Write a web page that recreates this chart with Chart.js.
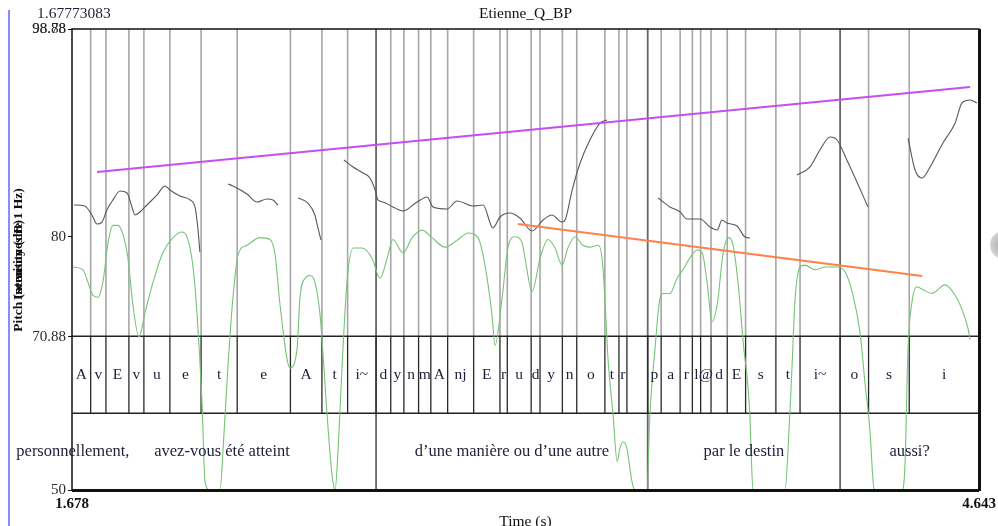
<!DOCTYPE html>
<html>
<head>
<meta charset="utf-8">
<script src="https://cdn.jsdelivr.net/npm/chart.js@4/dist/chart.umd.min.js"></script>
<style>
body { margin: 0; background: #fff; }
canvas { display: block; }
</style>
</head>
<body>
<canvas id="c" width="998" height="526"></canvas>
<script>
// time range of the window (s)
var tMin = 1.678, tMax = 4.643;

// intensity contour (dB)
var intensityTime = [1.681,1.714,1.730,1.747,1.763,1.779,1.796,1.812,1.828,1.845,
    1.861,1.877,1.897,1.917,1.943,1.975,2.008,2.038,2.057,2.074,
    2.087,2.103,2.113,2.129,2.162,2.172,2.188,2.204,2.221,2.250,
    2.293,2.325,2.342,2.358,2.391,2.414,2.423,2.440,2.456,2.472,
    2.489,2.512,2.528,2.538,2.548,2.561,2.577,2.597,2.626,2.659,
    2.685,2.708,2.727,2.760,2.790,2.822,2.855,2.897,2.940,2.973,
    3.005,3.028,3.051,3.061,3.084,3.103,3.126,3.149,3.159,3.182,
    3.208,3.234,3.257,3.280,3.299,3.322,3.348,3.371,3.398,3.411,
    3.420,3.430,3.447,3.460,3.469,3.479,3.492,3.509,3.518,3.558,
    3.567,3.584,3.600,3.610,3.633,3.656,3.675,3.705,3.721,3.738,
    3.754,3.770,3.787,3.806,3.823,3.839,3.855,3.872,3.894,3.898,
    3.904,4.009,4.019,4.032,4.042,4.058,4.074,4.107,4.140,4.179,
    4.205,4.228,4.254,4.270,4.287,4.297,4.303,4.391,4.401,4.411,
    4.424,4.440,4.460,4.489,4.532,4.565,4.591,4.607,4.614];
var intensityDb = [73.6,73.3,72.0,70.6,70.4,72.0,76.2,78.0,78.0,77.0,
    74.5,69.6,66.2,68.8,72.0,75.1,76.7,77.3,76.5,73.5,
    68.5,59.3,50.8,50,50,54.4,63.2,70.3,74.9,75.9,
    76.7,76.5,74.9,69.6,62.9,65.0,70.3,72.4,72.7,72.0,
    68.5,57.9,51.6,50,54.4,63.2,72.0,75.6,75.6,74.5,
    72.4,74.5,76.5,75.1,76.7,77.5,76.7,75.7,76.5,77.2,
    76.7,73.8,68.5,65.3,70.3,75.6,76.8,76.2,74.5,71.0,
    74.5,76.5,75.6,73.8,75.6,76.8,75.9,75.7,75.9,74.5,
    70.3,64.0,57.9,53.0,54.4,55.1,54.4,50.8,50,50,
    57.9,65.0,70.3,70.8,70.8,72.4,73.3,74.9,75.4,75.1,
    72.0,67.8,69.6,74.9,76.7,75.9,72.0,65.7,57.9,54.2,
    50,50,54.4,63.2,70.3,73.6,73.8,73.3,73.6,73.6,
    73.1,71.0,66.7,61.4,56.1,50.8,50,50,52.6,65.0,
    69.9,71.5,71.2,70.8,71.7,70.6,68.8,67.1,65.9];

// pitch contour (semitones re 1 Hz), null = unvoiced gap
var pitchTime = [1.685,1.720,1.743,1.760,1.776,1.792,1.812,1.835,1.858,1.874,1.884,1.900,1.923,1.956,1.982,1.998,2.031,2.064,2.080,2.090,2.096,
    2.14,
    2.188,2.204,2.250,2.283,2.315,2.335,2.351,
    2.38,
    2.417,2.449,2.472,2.482,2.492,
    2.53,
    2.567,2.597,2.629,2.652,2.669,2.678,2.695,2.727,2.760,2.806,2.839,2.858,2.904,2.937,2.989,3.022,3.054,3.077,3.110,3.142,3.182,3.218,3.247,3.280,3.290,3.313,3.339,3.371,3.404,3.427,
    3.5,
    3.594,3.633,3.666,3.688,3.731,3.764,3.787,3.803,3.819,3.852,3.878,3.894,
    3.95,
    4.048,4.090,4.123,4.156,4.179,4.211,4.244,4.280,
    4.35,
    4.411,4.434,4.457,4.483,4.525,4.565,4.587,4.614,4.636];
var pitchSt = [82.88,82.79,81.97,81.15,81.33,82.43,83.34,84.15,83.97,82.70,81.97,82.24,82.88,83.79,84.61,84.25,83.70,83.34,82.70,80.61,78.61,
    null,
    84.79,84.61,83.88,83.15,83.43,83.34,82.88,
    null,
    83.52,83.06,81.97,80.79,79.70,
    null,
    86.97,86.33,85.79,85.33,84.24,83.34,83.15,82.70,82.34,83.15,83.61,82.70,82.52,83.24,82.79,82.88,80.79,81.79,82.15,81.70,80.52,81.52,81.97,81.33,81.52,84.24,86.70,88.79,90.33,90.61,
    null,
    83.52,82.70,82.24,81.61,81.61,80.88,80.61,81.52,81.24,80.97,79.97,79.88,
    null,
    85.61,86.33,87.88,89.06,88.79,86.97,84.97,82.70,
    null,
    88.97,86.06,85.33,86.33,88.52,90.33,92.15,92.43,92.15];

// stylised trend lines (semitones)
var riseTime = [1.760, 4.614];
var riseSt = [85.88, 93.61];
var fallTime = [3.136, 4.457];
var fallSt = [81.15, 76.43];

// TextGrid tiers
var phoneBounds = [1.739,1.789,1.864,1.913,1.998,2.100,2.218,2.392,2.495,2.579,
    2.672,2.720,2.763,2.811,2.851,2.906,2.991,3.077,3.101,3.179,
    3.208,3.281,3.328,3.420,3.466,3.492,3.560,3.604,3.666,3.706,
    3.733,3.767,3.820,3.880,3.979,4.058,4.189,4.282,4.415];
var phoneLabels = ['A','v','E','v','u','e','t','e','A','t',
    'i~','d','y','n','m','A','nj','E','r','u',
    'd','y','n','o','t','r','','p','a','r',
    'l','@','d','E','s','t','i~','o','s','i'];
var wordStart = 1.214;
var wordBounds = [2.672, 3.560, 4.189];
var wordLabels = ['personnellement,      avez-vous \u00e9t\u00e9 atteint',
    'd\u2019une mani\u00e8re ou d\u2019une autre', 'par le destin', 'aussi?'];

// axis ticks
var intensityTicks = [50, 98.78];
var pitchTicks = [70.88, 80, 98.88];

var serif = "'Liberation Serif', 'DejaVu Serif', serif";

function pts(xs, ys) {
    var out = [];
    for (var i = 0; i < xs.length; i++) out.push({x: xs[i], y: ys[i]});
    return out;
}
function vlines(times, y0, y1) {
    var out = [];
    times.forEach(function(t) {
        out.push({x: t, y: y0}, {x: t, y: y1}, {x: t, y: null});
    });
    return out;
}
var signalBounds = phoneBounds.filter(function(t) { return wordBounds.indexOf(t) < 0; });

// pitch labels share the left margin with the intensity labels:
// they are mirrored into the zero-width axis and pulled back left
var mctx = document.createElement('canvas').getContext('2d');
mctx.font = '15px ' + serif;
var pitchWidest = 0;
pitchTicks.forEach(function(v) { pitchWidest = Math.max(pitchWidest, mctx.measureText(String(v)).width); });

var textPlugin = {
    id: 'praatText',
    afterDatasetsDraw: function(chart) {
        var ctx = chart.ctx, a = chart.chartArea;
        ctx.save();
        ctx.strokeStyle = '#111';
        ctx.lineWidth = 1.5;
        ctx.strokeRect(a.left, a.top, a.right - a.left, a.bottom - a.top);
        ctx.lineWidth = 3;
        ctx.beginPath();
        ctx.moveTo(a.right + 0.5, a.top); ctx.lineTo(a.right + 0.5, a.bottom + 1);
        ctx.moveTo(a.left, a.bottom + 0.5); ctx.lineTo(a.right, a.bottom + 0.5);
        ctx.stroke();
        ctx.restore();
    },
    afterDraw: function(chart) {
        var ctx = chart.ctx, a = chart.chartArea;
        var xs = chart.scales.x, ts = chart.scales.yT;
        ctx.save();
        ctx.fillStyle = '#1e1e38';
        ctx.textBaseline = 'middle';

        // phone labels
        ctx.font = '15.5px ' + serif;
        ctx.textAlign = 'center';
        var edges = [tMin].concat(phoneBounds, [tMax]);
        for (var i = 0; i < phoneLabels.length; i++) {
            var mid = (edges[i] + edges[i + 1]) / 2;
            ctx.fillText(phoneLabels[i], xs.getPixelForValue(mid), ts.getPixelForValue(1.5));
        }
        // word labels
        ctx.font = '16.5px ' + serif;
        var wedges = [wordStart].concat(wordBounds, [tMax]);
        for (var j = 0; j < wordLabels.length; j++) {
            var wm = (wedges[j] + wedges[j + 1]) / 2;
            ctx.fillText(wordLabels[j], xs.getPixelForValue(wm), ts.getPixelForValue(0.5));
        }

        // title and cursor time
        ctx.font = '15.5px ' + serif;
        ctx.fillStyle = '#111';
        ctx.fillText('Etienne_Q_BP', (a.left + a.right) / 2, 14);
        ctx.textAlign = 'left';
        ctx.fillStyle = '#1e1e38';
        ctx.fillText('1.67773083', 37, 14);

        // x title, cut by the bottom edge
        ctx.fillStyle = '#111';
        ctx.textAlign = 'center';
        ctx.textBaseline = 'alphabetic';
        ctx.fillText('Time (s)', (a.left + a.right) / 2, 526);

        // overlapping y titles
        ctx.translate(19, 260);
        ctx.rotate(-Math.PI / 2);
        ctx.textBaseline = 'middle';
        ctx.font = 'bold 13.5px ' + serif;
        ctx.fillText('Pitch (semitones re 1 Hz)', 0, 0);
        ctx.fillText('Intensity (dB)', 0, 0);
        ctx.restore();

        // window edge and scroll knob
        ctx.save();
        ctx.strokeStyle = '#6464ff';
        ctx.lineWidth = 1.5;
        ctx.beginPath();
        ctx.moveTo(9, 10); ctx.lineTo(9, 526);
        ctx.stroke();
        var g = ctx.createRadialGradient(1004, 245, 2, 1004, 245, 15);
        g.addColorStop(0, '#aaa');
        g.addColorStop(1, '#d8d8d8');
        ctx.fillStyle = g;
        ctx.beginPath();
        ctx.arc(1004, 245, 14, 0, Math.PI * 2);
        ctx.fill();
        ctx.restore();
    }
};

var lineBase = {pointRadius: 0, fill: false, spanGaps: false};
function ds(o) { return Object.assign({}, lineBase, o); }

new Chart(document.getElementById('c'), {
    type: 'line',
    data: {
        datasets: [
            ds({label: 'rise', data: pts(riseTime, riseSt), yAxisID: 'yP', borderColor: 'rgb(198,78,240)', borderWidth: 2, order: 0}),
            ds({label: 'fall', data: pts(fallTime, fallSt), yAxisID: 'yP', borderColor: 'rgb(255,128,72)', borderWidth: 2, order: 1}),
            ds({label: 'pitch', data: pts(pitchTime, pitchSt), yAxisID: 'yP', borderColor: '#585858', borderWidth: 1.1, cubicInterpolationMode: 'monotone', order: 2}),
            ds({label: 'intensity', data: pts(intensityTime, intensityDb), yAxisID: 'yI', borderColor: 'rgb(118,196,118)', borderWidth: 1.1, cubicInterpolationMode: 'monotone', order: 3}),
            ds({label: 'tiers', data: [{x: tMin, y: 1}, {x: tMax, y: 1}, {x: tMax, y: null}, {x: tMin, y: 2}, {x: tMax, y: 2}], yAxisID: 'yT', borderColor: '#222', borderWidth: 1.5, order: 4}),
            ds({label: 'phones', data: vlines(phoneBounds, 1, 2), yAxisID: 'yT', borderColor: '#2a2a2a', borderWidth: 1.3, order: 5}),
            ds({label: 'words', data: vlines(wordBounds, 0, 6), yAxisID: 'yT', borderColor: '#666', borderWidth: 1.8, order: 6}),
            ds({label: 'marks', data: vlines(signalBounds, 2, 6), yAxisID: 'yT', borderColor: '#a6a6a6', borderWidth: 1.6, order: 7})
        ]
    },
    options: {
        responsive: false,
        animation: false,
        devicePixelRatio: 1,
        events: [],
        layout: {padding: {top: 29, right: 19, left: 0, bottom: 0}},
        plugins: {legend: {display: false}, tooltip: {enabled: false}},
        scales: {
            x: {
                type: 'linear', position: 'bottom', min: tMin, max: tMax,
                afterBuildTicks: function(s) { s.ticks = [{value: tMin}, {value: tMax}]; },
                afterFit: function(s) { s.height = 36; s.paddingLeft = 0; s.paddingRight = 0; },
                ticks: {autoSkip: false, maxRotation: 0, padding: 5, color: '#111',
                    font: {family: serif, size: 15, weight: 'bold'},
                    callback: function(v) { return v.toFixed(3); }},
                grid: {drawOnChartArea: false, drawTicks: false},
                border: {display: false}
            },
            yI: {
                type: 'linear', position: 'left', weight: 2, min: 50, max: 98.78,
                afterBuildTicks: function(s) { s.ticks = intensityTicks.map(function(v) { return {value: v}; }); },
                afterFit: function(s) { s.width = 72; s.paddingTop = 0; s.paddingBottom = 0; },
                ticks: {autoSkip: false, padding: 2, color: '#2a2a2a', font: {family: serif, size: 15},
                    callback: function(v) { return String(v); }},
                grid: {drawOnChartArea: false, tickLength: 4, color: '#111'},
                border: {display: false}
            },
            yP: {
                type: 'linear', position: 'left', weight: 1, min: 56.97, max: 98.88,
                afterBuildTicks: function(s) { s.ticks = pitchTicks.map(function(v) { return {value: v}; }); },
                afterFit: function(s) { s.width = 0; s.paddingTop = 0; s.paddingBottom = 0; },
                ticks: {autoSkip: false, mirror: true, crossAlign: 'far', padding: -(pitchWidest + 6),
                    color: '#2a2a2a', font: {family: serif, size: 15},
                    callback: function(v) { return String(v); }},
                grid: {drawOnChartArea: false, tickLength: 4, color: '#111'},
                border: {display: false}
            },
            yT: {type: 'linear', display: false, weight: 0, min: 0, max: 6}
        }
    },
    plugins: [textPlugin]
});
</script>
</body>
</html>
